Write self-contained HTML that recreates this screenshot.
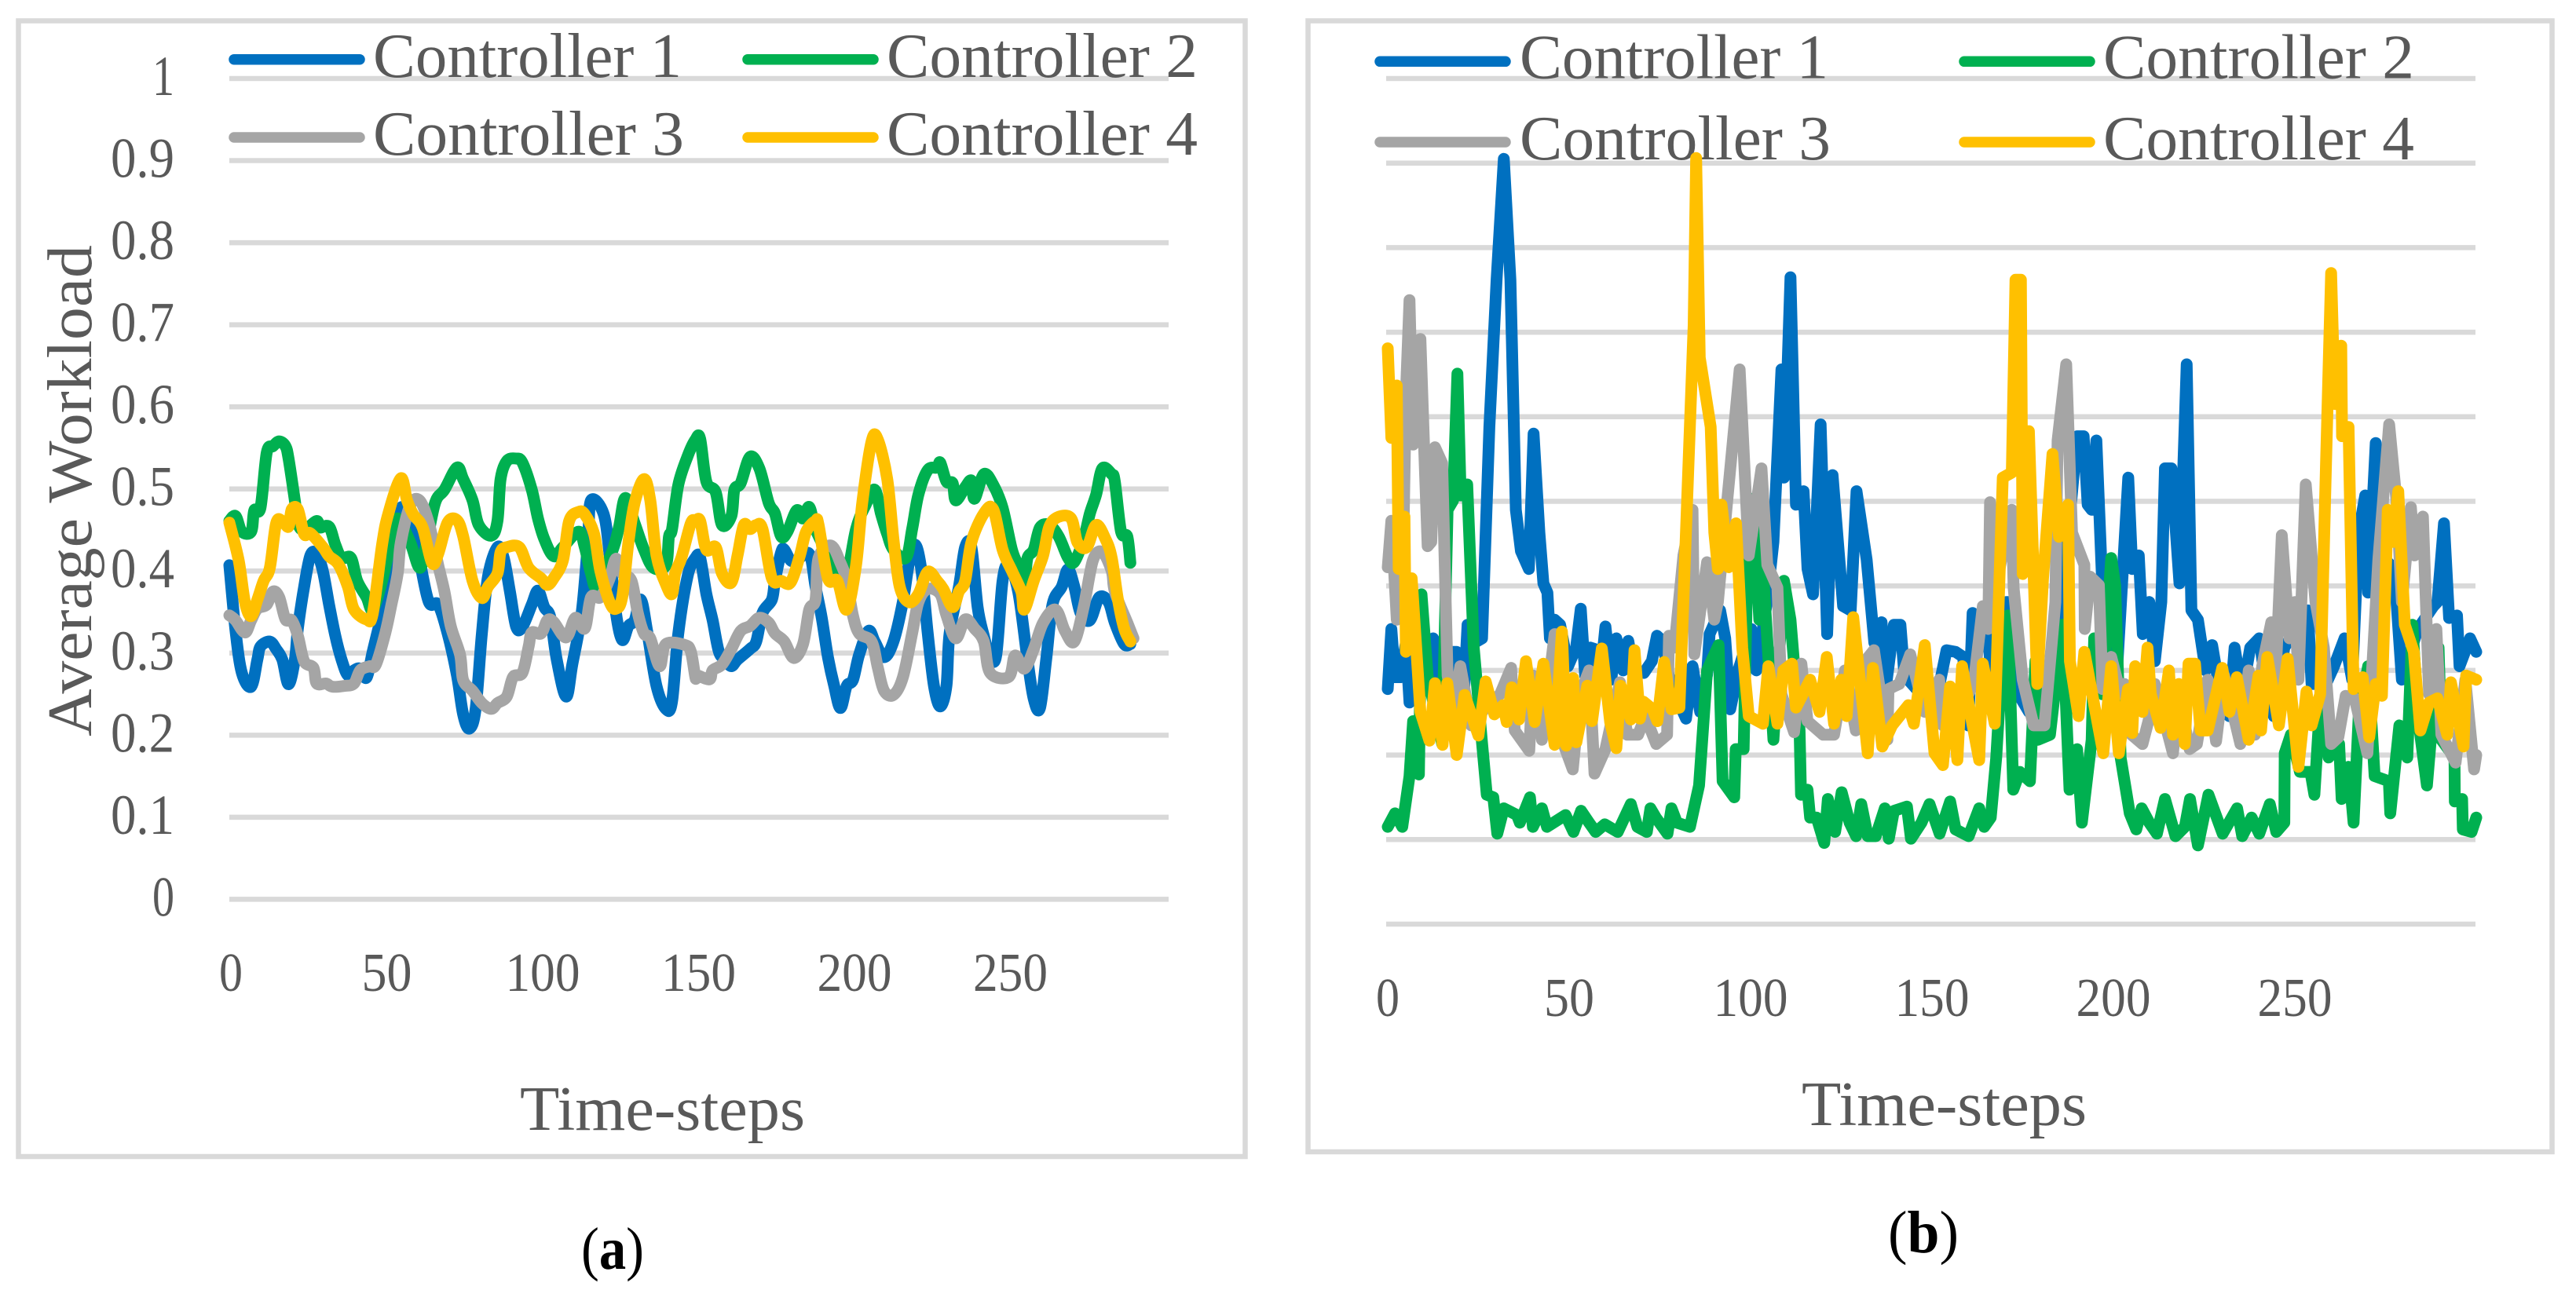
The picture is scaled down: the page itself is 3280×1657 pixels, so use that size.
<!DOCTYPE html>
<html lang="en">
<head>
<meta charset="utf-8">
<title>Average workload of controllers</title>
<style>
html,body{margin:0;padding:0;background:#fff;width:3280px;height:1657px;overflow:hidden}
svg{display:block;font-family:"Liberation Serif",serif}
.lab{fill:#595959}
</style>
</head>
<body>
<svg id="figure" xmlns="http://www.w3.org/2000/svg" width="3280" height="1657" viewBox="0 0 3280 1657">
<rect x="23.5" y="26.5" width="1562" height="1446.5" fill="#fff" stroke="#d9d9d9" stroke-width="6.5"/>
<rect x="1665.5" y="26.5" width="1584" height="1440.5" fill="#fff" stroke="#d9d9d9" stroke-width="6.5"/>
<g id="gridA"></g>
<g id="gridB"></g>
<g id="ticksA"></g>
<g id="ticksB"></g>
<g>
<line x1="298" y1="75.7" x2="458" y2="75.7" stroke="#0070C0" stroke-width="13.5" stroke-linecap="round"/>
<text class="lab" x="475" y="98" font-size="80" textLength="393" lengthAdjust="spacingAndGlyphs">Controller 1</text>
<line x1="952" y1="75.7" x2="1112" y2="75.7" stroke="#00B050" stroke-width="13.5" stroke-linecap="round"/>
<text class="lab" x="1129" y="98" font-size="80" textLength="396" lengthAdjust="spacingAndGlyphs">Controller 2</text>
<line x1="298" y1="175" x2="458" y2="175" stroke="#A5A5A5" stroke-width="13.5" stroke-linecap="round"/>
<text class="lab" x="475" y="197" font-size="80" textLength="396" lengthAdjust="spacingAndGlyphs">Controller 3</text>
<line x1="952" y1="175" x2="1112" y2="175" stroke="#FFC000" stroke-width="13.5" stroke-linecap="round"/>
<text class="lab" x="1129" y="197" font-size="80" textLength="396" lengthAdjust="spacingAndGlyphs">Controller 4</text>
</g>
<g>
<line x1="1757" y1="78.3" x2="1917" y2="78.3" stroke="#0070C0" stroke-width="13.5" stroke-linecap="round"/>
<text class="lab" x="1935" y="99.5" font-size="80" textLength="393" lengthAdjust="spacingAndGlyphs">Controller 1</text>
<line x1="2501" y1="78.3" x2="2661" y2="78.3" stroke="#00B050" stroke-width="13.5" stroke-linecap="round"/>
<text class="lab" x="2678" y="99.5" font-size="80" textLength="396" lengthAdjust="spacingAndGlyphs">Controller 2</text>
<line x1="1757" y1="181" x2="1917" y2="181" stroke="#A5A5A5" stroke-width="13.5" stroke-linecap="round"/>
<text class="lab" x="1935" y="203" font-size="80" textLength="396" lengthAdjust="spacingAndGlyphs">Controller 3</text>
<line x1="2501" y1="181" x2="2661" y2="181" stroke="#FFC000" stroke-width="13.5" stroke-linecap="round"/>
<text class="lab" x="2678" y="203" font-size="80" textLength="396" lengthAdjust="spacingAndGlyphs">Controller 4</text>
</g>
<g id="seriesA"></g>
<g id="seriesB"></g>
<text class="lab" transform="translate(116,625) rotate(-90)" text-anchor="middle" font-size="80" textLength="626" lengthAdjust="spacingAndGlyphs">Average Workload</text>
<text class="lab" x="662" y="1439" font-size="80" textLength="363" lengthAdjust="spacingAndGlyphs">Time-steps</text>
<text class="lab" x="2294" y="1433" font-size="80" textLength="363" lengthAdjust="spacingAndGlyphs">Time-steps</text>
<text x="740" y="1616" font-size="76" fill="#000" textLength="80" lengthAdjust="spacingAndGlyphs">(<tspan font-weight="bold">a</tspan>)</text>
<text x="2404" y="1595" font-size="76" fill="#000" textLength="90" lengthAdjust="spacingAndGlyphs">(<tspan font-weight="bold">b</tspan>)</text>
</svg>
<script>
const yTickValues = [0,0.1,0.2,0.3,0.4,0.5,0.6,0.7,0.8,0.9,1];
const yTickLabels = ['0','0.1','0.2','0.3','0.4','0.5','0.6','0.7','0.8','0.9','1'];
const xTickValues = [0,50,100,150,200,250];
const xTickLabels = ['0','50','100','150','200','250'];

const stepsA1 = [0,2,4,7,9,10,13,15,17,19,21,22,24,26,28,30,32,34,36,38,40,42,44,46,48,51,53,55,58,61,64,67,70,73,75,77,79,81,83,86,88,90,92,94,97,99,101,103,105,108,110,113,115,116,120,122,124,126,128,130,132,134,137,140,142,144,147,149.5,
151,153,155,157,159,161,163,167,169,171,174,175,177,178,180,182,186,188,190,192,194,196,198,200,202,205,207,210,213,216,218,220,222,224,226,228,230,231,234,236,238,240,242,244,246,248,250,253,256,258,260,262,264,267,269,271,273,276,279,282,284,287,289];
const valuesA1 = [.407,.327,.276,.259,.292,.308,.314,.305,.292,.262,.292,.330,.381,.419,.421,.400,.359,.321,.292,.273,.279,.281,.270,.302,.333,.375,.435,.477,.461,.413,.362,.359,.324,.273,.225,.208,.232,.324,.394,.429,.416,.375,.332,.332,.359,.376,.356,.343,.292,.247,.286,.349,.435,.486,.470,.419,.349,.316,.333,.340,.365,.327,.260,.232,.241,.324,.394,.416,
.416,.372,.340,.302,.292,.284,.292,.305,.314,.349,.365,.388,.423,.426,.413,.413,.421,.381,.343,.295,.260,.233,.260,.267,.298,.327,.314,.295,.314,.362,.410,.432,.400,.324,.260,.235,.260,.324,.381,.429,.429,.356,.321,.295,.298,.388,.407,.375,.292,.244,.233,.292,.359,.381,.402,.381,.349,.340,.368,.362,.337,.311,.311];

const stepsA2 = [0,2,4,7,8,10,12,14,16,18,19,21,22,24,28,29,32,34,36,39,41,44,46,49,52,54,58,61,63,66,69,73,75,78,80,84,86,87,89,92,94,97,99,101,104,107,112,114,116,118,123,125,127,130,133,136,140,141,142,144,147,149.5,
151,153,156,158,161,162,164,167,170,173,175,177,179,182,184,186,188,192,195,198,201,204,207,209,211,213,217,219,221,224,227,228,230,232,233,236,238,239,242,245,248,251,253,255,256,258,260,263,266,269,271,274,276,278,280,283,284,286,288,289];
const valuesA2 = [.461,.467,.448,.448,.474,.477,.544,.552,.558,.552,.537,.486,.458,.450,.461,.453,.454,.432,.416,.416,.388,.368,.353,.388,.439,.464,.435,.404,.429,.483,.499,.526,.512,.486,.456,.443,.461,.512,.534,.537,.532,.499,.464,.439,.418,.429,.448,.429,.397,.381,.426,.454,.489,.458,.426,.404,.407,.442,.451,.505,.540,.560,
.561,.509,.496,.456,.467,.499,.507,.539,.525,.483,.470,.442,.448,.474,.464,.478,.451,.419,.388,.394,.451,.480,.499,.470,.445,.426,.416,.451,.493,.523,.526,.532,.509,.507,.486,.502,.510,.488,.518,.505,.477,.426,.407,.388,.416,.426,.453,.456,.442,.416,.411,.439,.470,.493,.525,.518,.509,.448,.442,.410];

const stepsA3 = [0,2,5,7,9,12,14,16,18,20,22,24,27,28,31,33,37,40,42,45,47,50,52,54,55,58,61,64,67,69,71,74,75,78,81,84,86,89,91,94,96,97,100,102,104,108,111,114,116,119,122,124,126,129,131,133,135,138,140,146,148,149.5,
150,154,155,158,161,164,167,170,173,175,178,181,184,186,188,189,193,196,198,200,202,206,208,210,213,216,219,221,224,228,230,233,236,239,242,244,250,252,255,258,261,265,268,271,274,277,280,283,284,288,290];
const valuesA3 = [.346,.340,.325,.340,.354,.359,.375,.368,.341,.340,.321,.290,.282,.263,.263,.259,.260,.263,.279,.284,.286,.324,.359,.397,.435,.480,.486,.458,.407,.375,.333,.298,.267,.254,.239,.232,.239,.247,.271,.276,.308,.325,.324,.340,.338,.319,.343,.330,.368,.368,.391,.415,.397,.388,.349,.324,.318,.284,.311,.310,.302,.270,
.273,.268,.279,.286,.305,.327,.333,.343,.337,.324,.314,.294,.311,.353,.365,.416,.431,.410,.388,.346,.324,.314,.282,.254,.249,.270,.324,.362,.378,.372,.346,.318,.341,.330,.314,.276,.271,.297,.281,.305,.337,.353,.327,.314,.356,.413,.423,.400,.375,.337,.318];

const stepsA4 = [0,3,5,7,9,11,13,15,17,19,20,22,24,26,30,32,35,38,40,44,46,49,51,55,57,59,62,65,67,70,73,75,78,81,83,86,87,89,93,96,100,102,104,107,109,112,114,117,119,122,124,126,128,130,133,135,137,140,142,143,145,148,149.5,
151,153,156,158,161,163,165,167,169,171,174,177,180,183,185,188,189,192,195,198,201,203,206,208,211,213,215,218,221,224,227,229,232,234,236,238,242,245,248,251,254,255,258,261,263,266,270,272,275,278,281,283,285,287,289];
const valuesA4 = [.459,.413,.362,.345,.365,.388,.404,.458,.461,.454,.475,.475,.445,.446,.429,.418,.408,.381,.353,.341,.348,.432,.470,.513,.486,.469,.453,.410,.421,.459,.462,.442,.388,.367,.381,.397,.423,.429,.429,.404,.391,.383,.391,.413,.461,.472,.469,.445,.400,.362,.354,.368,.435,.483,.512,.486,.419,.384,.372,.397,.416,.458,.461,
.461,.426,.429,.397,.386,.419,.456,.451,.456,.451,.391,.388,.386,.419,.448,.461,.456,.391,.388,.353,.407,.483,.558,.560,.512,.439,.381,.362,.372,.399,.388,.378,.356,.375,.388,.435,.470,.475,.426,.400,.375,.353,.388,.419,.454,.466,.464,.435,.429,.456,.439,.416,.365,.330,.314];

const stepsB1 = [0,1,2,3.5,5,6,8,9,12.5,14,16,18,19,21,22,24,26,28,30,32,33.8,35.3,36.7,38.9,40.2,41.8,42.9,44,44.7,46,47.5,49.7,51.9,53.2,54.4,55.8,57.3,58.4,60,61.6,63,64.9,66.3,67.7,70.6,72.8,74.2,75.7,77.9,82.2,84,86.1,88,88.7,91.6,93,94.4,96.6,100.2,
101.6,104.5,106.3,108.5,109.2,111,112.5,114.6,115.7,117.2,119.3,121.1,122.6,125.5,127.6,129.2,132,134.1,136.1,137.4,139.5,141.3,142.4,147,152.1,154,156.5,158.6,160,161.2,163,165.5,167.3,170.5,172.4,173.8,176.7,179.6,183.9,185.7,190,191.8,192.9,194,195.3,196.9,199,
201,204.1,205.2,207,208.1,209.9,211.4,213.2,214.2,216,218.2,220.2,221.5,223.3,225.4,227.2,229,231.9,233.4,235.5,237.7,240.2,242.4,244.2,247.1,253.6,254.6,258.6,260.8,263.7,265.8,267.6,269.4,270.2,272.3,273.8,277.4,279.5,283.9,288.2,289.3,291.1,292.5,294.7,295.4,298.3,300];
const valuesB1 = [.278,.349,.292,.292,.333,.262,.289,.327,.338,.284,.272,.322,.322,.272,.354,.333,.338,.588,.762,.905,.762,.490,.441,.420,.580,.463,.403,.392,.338,.360,.354,.305,.327,.373,.294,.327,.325,.284,.352,.289,.338,.300,.335,.300,.297,.311,.341,.335,.284,.243,.305,.251,.295,.343,.371,.338,.254,.300,.349,
.300,.381,.452,.656,.528,.765,.496,.512,.420,.390,.591,.343,.531,.376,.371,.512,.431,.333,.357,.284,.354,.354,.294,.272,.284,.324,.322,.316,.235,.368,.327,.338,.246,.381,.381,.272,.251,.272,.294,.373,.577,.577,.496,.490,.572,.403,.327,
.300,.528,.420,.436,.343,.381,.311,.381,.539,.539,.403,.662,.371,.360,.300,.330,.284,.246,.327,.272,.327,.338,.272,.246,.327,.371,.284,.284,.305,.338,.289,.463,.507,.392,.569,.436,.420,.289,.349,.376,.381,.474,.362,.365,.305,.338,.322];

const stepsB2 = [0,2,4,6,7,8,8.6,9.3,11,15,16.5,18,19.2,20.1,21.9,23.7,25.9,27.3,29.1,30.2,32,35.6,36.4,39.2,40,42.5,43.9,49,51.2,53.3,55.5,57.3,59.8,63.4,67,68.8,71.4,72.4,73.9,77.1,78.2,79.7,83.3,85.8,88,91.2,92.3,95.5,95.9,98.1,99.1,100.6,
102.4,103.4,106.3,109.2,111,113.5,113.9,115.7,116.4,118.2,120.3,121.3,123.3,125.1,127.3,129.1,130.5,132.3,134.5,137,138.1,139.5,143.1,144.2,147.1,149.3,152.1,155,156.5,160.1,163,164.4,166.2,167.7,169.5,170.9,172.4,174.2,177,178.5,179.2,182.5,186,187.9,190,191.3,194,194.7,196.9,199.4,
200.5,202,204.5,206.3,207.8,209.9,212,214.2,217.1,219.7,221.1,223.3,226.2,230.1,234.1,235.5,238.1,240.2,243.1,244.9,247.1,247.2,248.9,251.4,254.3,255.4,257.9,259.3,262.2,262.9,264.8,266.2,267.6,270.2,272,275.9,276.3,278.8,281,282.4,283.9,286.4,289.6,290.4,294,294.1,296.1,296.3,298.7,300];
const valuesB2 = [.115,.131,.115,.175,.240,.240,.177,.390,.294,.213,.490,.501,.651,.507,.520,.327,.218,.153,.150,.107,.137,.129,.120,.150,.115,.137,.115,.129,.109,.134,.120,.109,.118,.109,.142,.115,.109,.137,.126,.107,.137,.120,.115,.164,.300,.330,.169,.150,.207,.207,.420,.503,
.360,.420,.218,.406,.360,.229,.153,.159,.126,.126,.096,.148,.109,.156,.120,.104,.142,.104,.104,.137,.101,.134,.139,.101,.120,.142,.107,.145,.112,.104,.137,.115,.126,.197,.327,.365,.159,.180,.169,.311,.218,.224,.354,.159,.207,.120,.218,.338,.272,.433,
.400,.197,.131,.112,.137,.120,.107,.148,.104,.115,.148,.093,.153,.107,.137,.104,.126,.107,.142,.109,.120,.202,.224,.180,.180,.153,.327,.197,.213,.148,.186,.120,.246,.305,.175,.169,.131,.235,.197,.354,.246,.164,.327,.218,.197,.145,.148,.112,.109,.126];

const stepsB3 = [0,1,2.5,4,5,6,7,9,10,11,12,13,15,16.5,18,20,23,27,31,34,35,39,40,42.5,46,48,51,53,55.5,57,60,64,66,69,71,74,77,77.5,79,81.5,84,84.5,88,90,91,93.7,97,99.5,
103,104.6,107.4,108.5,112,114,115.7,120,123,126,129,131,134,137.7,138,141,144,148,152,153,158,161.5,164,165.5,166,167,172,172.5,175,178,181,184,184.6,187,188.6,192,192.1,193.6,196,197,199.4,
202,203,205,208,210,211.4,216.4,218,221,223,226,228.3,230.5,235,237.3,239,241,243.5,244.5,246.4,248.5,250,251,253,255.7,258,260,262,264,266.5,270,273,276,278,279.5,282,283,285.3,287,289,290.4,294.3,297,299.4,300];
const valuesB3 = [.422,.477,.360,.381,.626,.738,.567,.692,.567,.447,.452,.564,.545,.294,.256,.305,.235,.256,.272,.303,.229,.205,.294,.218,.343,.218,.183,.272,.300,.178,.207,.286,.224,.224,.246,.213,.224,.341,.327,.436,.490,.319,.428,.360,.381,.507,.656,.436,
.539,.425,.398,.272,.227,.308,.240,.224,.224,.300,.229,.308,.324,.218,.278,.284,.319,.251,.289,.235,.256,.284,.376,.349,.499,.387,.490,.398,.289,.235,.235,.381,.572,.662,.463,.425,.349,.411,.401,.278,.316,
.272,.284,.224,.213,.246,.284,.202,.272,.207,.213,.289,.216,.294,.213,.300,.224,.305,.357,.272,.460,.338,.381,.289,.520,.381,.327,.213,.221,.270,.267,.202,.431,.591,.501,.381,.493,.436,.482,.272,.349,.224,.191,.289,.183,.200];

const stepsB4 = [0,1,2.5,3,4.6,5,6.6,9,11.5,13,15.1,16.4,19,21.2,25,27,29.4,31.8,32.8,34.2,36.2,38.1,40.5,42.9,46,48,49.2,51.1,52,55,56.3,59,61.3,63,64.2,67,68,69.5,70.5,73,74.3,76.2,78.2,80.4,84.3,85,86,89,90,91,92,94,96,97.7,99.5,
103.4,104.9,107.4,109,111.4,112.5,116.4,119,121,123,125,126.5,128.3,132.3,133.7,136.3,139,143.5,145,148,150.7,153,155,157,158.3,160.5,163,164,167.3,169.5,172,173,174.5,175,176.7,179,180.6,183.2,185,187.5,188,190.4,192,197.2,199.4,201.5,
204,205.2,206,208,209.4,210.3,213,215.3,216.4,218,219.7,220.7,222.5,224,226,230,232,234,237.3,240,240.7,242.4,245.6,248,251,253.2,254.6,257,258.6,260,261,262.8,263,264.8,266.2,268.7,270.5,272.3,274,275.6,277,278.5,280.3,282.8,284.6,287,289.3,292,293,296.5,297.2,300];
const valuesB4 = [.681,.575,.637,.420,.482,.322,.409,.251,.217,.285,.212,.285,.200,.271,.223,.287,.248,.259,.239,.280,.242,.311,.239,.308,.212,.346,.211,.291,.215,.282,.240,.326,.239,.208,.282,.242,.324,.243,.263,.254,.240,.310,.254,.256,.708,.906,.670,.588,.463,.420,.496,.422,.474,.327,.246,
.237,.305,.237,.300,.308,.256,.289,.251,.316,.237,.289,.246,.363,.202,.303,.210,.235,.259,.237,.330,.202,.188,.281,.194,.305,.251,.194,.308,.237,.528,.534,.762,.762,.414,.583,.284,.409,.556,.458,.496,.311,.246,.322,.202,.305,.202,
.278,.226,.305,.251,.327,.272,.232,.300,.224,.284,.213,.308,.308,.229,.229,.303,.251,.292,.218,.294,.229,.316,.235,.314,.186,.275,.235,.272,.545,.770,.615,.684,.577,.588,.278,.292,.221,.284,.270,.490,.452,.512,.354,.322,.229,.262,.267,.224,.286,.210,.294,.289];

const seriesColors = ['#0070C0','#00B050','#A5A5A5','#FFC000'];
const svgNS = 'http://www.w3.org/2000/svg';
function xA(t){ return 292 + t * 3.97; }
function yA(v){ return 1145.4 - v * 1045.4; }
function xB(t){ return 1767 + t * 4.62; }
function yB(v){ return 1177 - v * 1077; }
function grid(parentId, yFn, x1, x2, prefix){
  const parent = document.getElementById(parentId);
  yTickValues.forEach(function(v, i){
    const l = document.createElementNS(svgNS, 'line');
    l.setAttribute('x1', x1);
    l.setAttribute('x2', x2);
    l.setAttribute('y1', yFn(v));
    l.setAttribute('y2', yFn(v));
    l.setAttribute('stroke', '#d9d9d9');
    l.setAttribute('stroke-width', 6.5);
    
    
    parent.appendChild(l);
  });
}
function label(parent, str, x, y, size, width, anchor, name){
  const t = document.createElementNS(svgNS, 'text');
  t.textContent = str;
  t.setAttribute('x', x);
  t.setAttribute('y', y);
  t.setAttribute('font-size', size);
  t.setAttribute('class', 'lab');
  t.setAttribute('text-anchor', anchor);
  t.setAttribute('textLength', width);
  t.setAttribute('lengthAdjust', 'spacingAndGlyphs');
  
  
  parent.appendChild(t);
}
function series(parentId, steps, values, xFn, yFn, color, name, smooth){
  const parent = document.getElementById(parentId);
  const n = Math.min(steps.length, values.length);
  const P = [];
  for (let i = 0; i < n; i++) { P.push([xFn(steps[i]), yFn(values[i])]); }
  let d = 'M' + P[0][0].toFixed(1) + ' ' + P[0][1].toFixed(1);
  for (let i = 0; i < n - 1; i++) {
    if (smooth) {
      const a = P[Math.max(i - 1, 0)], b = P[i], c = P[i + 1], e = P[Math.min(i + 2, n - 1)];
      d += 'C' + (b[0] + (c[0] - a[0]) / 6).toFixed(1) + ' ' + (b[1] + (c[1] - a[1]) / 6).toFixed(1) + ' ' +
           (c[0] - (e[0] - b[0]) / 6).toFixed(1) + ' ' + (c[1] - (e[1] - b[1]) / 6).toFixed(1) + ' ' +
           c[0].toFixed(1) + ' ' + c[1].toFixed(1);
    } else {
      d += 'L' + P[i + 1][0].toFixed(1) + ' ' + P[i + 1][1].toFixed(1);
    }
  }
  const p = document.createElementNS(svgNS, 'path');
  p.setAttribute('d', d);
  p.setAttribute('fill', 'none');
  p.setAttribute('stroke', color);
  p.setAttribute('stroke-width', 15);
  p.setAttribute('stroke-linejoin', 'round');
  p.setAttribute('stroke-linecap', 'round');
  
  
  parent.appendChild(p);
}
const widths = {1:30, 2:64, 3:95};
grid('gridA', yA, 292, 1488, 'chart-a');
grid('gridB', yB, 1765, 3152, 'chart-b');
const ticksA = document.getElementById('ticksA');
const ticksB = document.getElementById('ticksB');
yTickValues.forEach(function(v, i){
  const s = yTickLabels[i];
  label(ticksA, s, 222, yA(v) + 21, 72, s.length === 1 ? 28 : 81, 'end', 'chart-a-y-tick-' + s);
});
xTickValues.forEach(function(t, i){
  const s = xTickLabels[i];
  label(ticksA, s, xA(t) + 2, 1262, 70, widths[s.length], 'middle', 'chart-a-x-tick-' + s);
  label(ticksB, s, xB(t), 1294, 70, widths[s.length], 'middle', 'chart-b-x-tick-' + s);
});
series('seriesA', stepsA1, valuesA1, xA, yA, seriesColors[0], 'chart-a-controller-1-line', true);
series('seriesA', stepsA2, valuesA2, xA, yA, seriesColors[1], 'chart-a-controller-2-line', true);
series('seriesA', stepsA3, valuesA3, xA, yA, seriesColors[2], 'chart-a-controller-3-line', true);
series('seriesA', stepsA4, valuesA4, xA, yA, seriesColors[3], 'chart-a-controller-4-line', true);
series('seriesB', stepsB1, valuesB1, xB, yB, seriesColors[0], 'chart-b-controller-1-line', false);
series('seriesB', stepsB2, valuesB2, xB, yB, seriesColors[1], 'chart-b-controller-2-line', false);
series('seriesB', stepsB3, valuesB3, xB, yB, seriesColors[2], 'chart-b-controller-3-line', false);
series('seriesB', stepsB4, valuesB4, xB, yB, seriesColors[3], 'chart-b-controller-4-line', false);
</script>
</body>
</html>
